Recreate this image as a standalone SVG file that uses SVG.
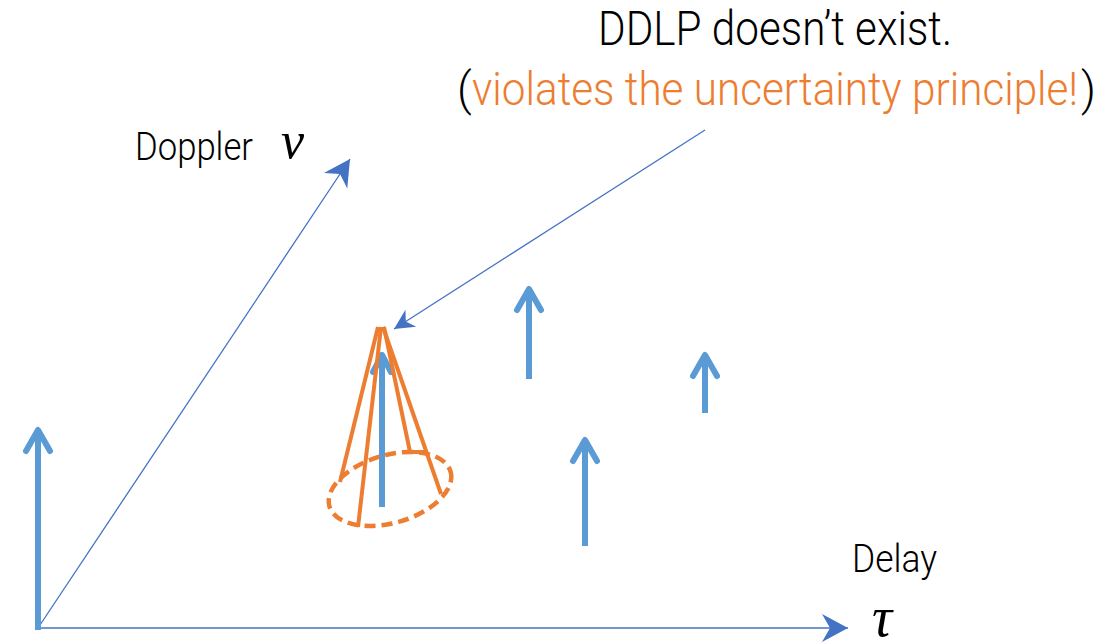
<svg xmlns="http://www.w3.org/2000/svg" width="1117" height="644" viewBox="0 0 1117 644">
<style>
.axis{stroke:#4472C4;stroke-width:1.3;fill:none}
.spike{stroke:#5B9BD5;stroke-width:6;fill:none;stroke-linecap:round;stroke-linejoin:round}
.spikeshaft{stroke:#5B9BD5;stroke-width:6;fill:none;stroke-linecap:butt}
.cone{stroke:#ED7D31;stroke-width:4;fill:none;stroke-linejoin:miter}
.dash{stroke:#ED7D31;stroke-width:4.5;fill:none;stroke-dasharray:11 6}
.lbl{font-family:Roboto,"Liberation Sans",sans-serif;font-weight:300;fill:#000}
.org{fill:#ED7D31}
.math{font-family:"Liberation Serif","DejaVu Serif",serif;font-style:italic;fill:#000}
</style>
<defs>
<marker id="stealth" markerUnits="userSpaceOnUse" markerWidth="30" markerHeight="30" viewBox="-27 -15 30 30" refX="0" refY="0" orient="auto">
<path d="M0,0 L-26,-14 L-18,0 L-26,14 Z" fill="#4472C4"/>
</marker>
<marker id="stealthSmall" markerUnits="userSpaceOnUse" markerWidth="24" markerHeight="24" viewBox="-22 -12 24 24" refX="0" refY="0" orient="auto">
<path d="M0,0 L-20,-10 L-14,0 L-20,10 Z" fill="#4472C4"/>
</marker>
</defs>

<g id="connectors">
<line id="delay-axis" class="axis" x1="38" y1="628" x2="848" y2="628" marker-end="url(#stealth)"/>
<line id="doppler-axis" class="axis" x1="38" y1="628" x2="350" y2="159" marker-end="url(#stealth)"/>
<line id="pointer" class="axis" x1="705" y1="130" x2="394" y2="329" marker-end="url(#stealthSmall)"/>
</g>

<g id="spike-origin">
<line class="spikeshaft" x1="38" y1="630" x2="38" y2="432"/>
<polyline class="spike" points="26,451 38,430 50,451"/>
</g>
<g id="spike-a">
<line class="spikeshaft" x1="529" y1="379" x2="529" y2="290"/>
<polyline class="spike" points="517,310 529,289 541,310"/>
</g>
<g id="spike-b">
<line class="spikeshaft" x1="705" y1="413" x2="705" y2="356"/>
<polyline class="spike" points="693,376 705,355 717,376"/>
</g>
<g id="spike-c">
<line class="spikeshaft" x1="585" y1="546" x2="585" y2="441"/>
<polyline class="spike" points="573,461 585,440 597,461"/>
</g>

<g id="ddlp-cone">
<line class="spikeshaft" x1="382" y1="507" x2="382" y2="354"/>
<polyline class="spike" points="373,372 382,355 391,372"/>
<line class="cone" x1="378" y1="327" x2="340" y2="482"/>
<line class="cone" x1="381" y1="327" x2="358" y2="527"/>
<polyline class="cone" points="384,327 410,452 426,452"/>
<line class="cone" x1="383" y1="327" x2="441" y2="494"/>
<ellipse class="dash" cx="390" cy="489" rx="63" ry="34" transform="rotate(-16 390 489)"/>
</g>

<g id="label-title">
<text class="lbl" x="598" y="45" font-size="48" textLength="354" lengthAdjust="spacingAndGlyphs">DDLP doesn’t exist.</text>
<text class="lbl" x="457" y="105" font-size="46">(</text>
<text class="lbl org" x="472" y="105" font-size="46" textLength="606" lengthAdjust="spacingAndGlyphs">violates the uncertainty principle!</text>
<text class="lbl" x="1081" y="105" font-size="46">)</text>
</g>

<g id="label-doppler">
<text class="lbl" x="135" y="160" font-size="39" textLength="118" lengthAdjust="spacingAndGlyphs">Doppler</text>
<text class="math" x="281" y="158" font-size="52">ν</text>
</g>

<g id="label-delay">
<text class="lbl" x="852" y="572" font-size="39" textLength="85" lengthAdjust="spacingAndGlyphs">Delay</text>
<text class="math" x="872" y="636" font-size="56">τ</text>
</g>
</svg>
